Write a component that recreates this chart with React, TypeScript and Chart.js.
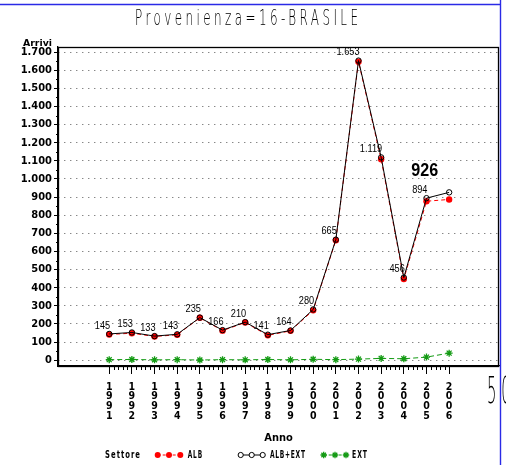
import React, { useEffect, useRef } from 'react';
import { Chart, registerables } from 'chart.js';

Chart.register(...registerables);

const years = [1991, 1992, 1993, 1994, 1995, 1996, 1997, 1998, 1999, 2000, 2001, 2002, 2003, 2004, 2005, 2006];
const albExt = [145, 153, 133, 143, 235, 166, 210, 141, 164, 280, 665, 1653, 1119, 456, 894, 926];
const alb = [142, 149, 131, 140, 234, 163, 208, 137, 162, 275, 662, 1647, 1109, 448, 877, 887];
const ext = [3, 4, 2, 3, 1, 3, 2, 4, 2, 5, 3, 6, 10, 8, 17, 39];
const yTicks = [0, 100, 200, 300, 400, 500, 600, 700, 800, 900, 1000, 1100, 1200, 1300, 1400, 1500, 1600, 1700];
const chartTitle = 'Provenienza=16-BRASILE';
const yTitle = 'Arrivi';
const xTitle = 'Anno';
const legendTitle = 'Settore';
const seriesNames = ['ALB', 'ALB+EXT', 'EXT'];
const highlightLabel = '926';

const COND = "'DejaVu Sans Condensed', 'Liberation Sans Narrow', 'DejaVu Sans', sans-serif";
const RED = '#ff0000';
const GREEN = '#139a13';
const BLUE = '#2a2ae6';

function fmt(n: number): string {
  const v = Math.round(n);
  if (Math.abs(v) >= 1000) {
    return Math.floor(v / 1000) + '.' + String(v % 1000).padStart(3, '0');
  }
  return String(v);
}

function drawText(
  ctx: CanvasRenderingContext2D,
  text: string,
  x: number,
  y: number,
  font: string,
  color: string,
  align: 'left' | 'right' | 'center',
  scaleX = 1,
  spacing = 0,
  targetWidth = 0
) {
  ctx.save();
  ctx.font = font;
  (ctx as any).letterSpacing = spacing + 'px';
  ctx.fillStyle = color;
  ctx.textBaseline = 'middle';
  ctx.textAlign = 'left';
  const raw = ctx.measureText(text).width - spacing;
  let sx = scaleX;
  if (targetWidth > 0) sx = targetWidth / raw;
  const w = raw * sx;
  const x0 = align === 'center' ? x - w / 2 : align === 'right' ? x - w : x;
  ctx.translate(x0, y);
  ctx.scale(sx, 1);
  ctx.fillText(text, 0, 0);
  ctx.restore();
}

function drawStar(ctx: CanvasRenderingContext2D, x: number, y: number, r: number, color: string) {
  ctx.save();
  ctx.strokeStyle = color;
  ctx.lineWidth = 1.3;
  ctx.beginPath();
  ctx.moveTo(x - r, y); ctx.lineTo(x + r, y);
  ctx.moveTo(x, y - r); ctx.lineTo(x, y + r);
  const d = r * 0.7071;
  ctx.moveTo(x - d, y - d); ctx.lineTo(x + d, y + d);
  ctx.moveTo(x - d, y + d); ctx.lineTo(x + d, y - d);
  ctx.stroke();
  ctx.restore();
}

const decorPlugin = {
  id: 'decor',
  beforeDraw(chart: any) {
    const ctx: CanvasRenderingContext2D = chart.ctx;
    ctx.save();
    ctx.fillStyle = '#ffffff';
    ctx.fillRect(0, 0, chart.width, chart.height);
    ctx.restore();
  },
  afterDraw(chart: any) {
    const ctx: CanvasRenderingContext2D = chart.ctx;
    const a = chart.chartArea;
    const xs = chart.scales.x;
    const ys = chart.scales.y;

    // frame
    ctx.save();
    ctx.strokeStyle = '#000';
    ctx.lineWidth = 1.3;
    ctx.strokeRect(Math.round(a.left) + 0.5, Math.round(a.top) + 0.5, Math.round(a.right - a.left) - 1, Math.round(a.bottom - a.top));
    // minor ticks x
    ctx.lineWidth = 1;
    ctx.beginPath();
    for (let i = 0; i < years.length - 1; i++) {
      for (let k = 1; k < 5; k++) {
        const px = Math.round(xs.getPixelForValue(years[i] + k * 0.2)) + 0.5;
        ctx.moveTo(px, a.bottom);
        ctx.lineTo(px, a.bottom + 4);
      }
    }
    // minor ticks y
    for (let i = 0; i < yTicks.length - 1; i++) {
      const py = Math.round(ys.getPixelForValue((yTicks[i] + yTicks[i + 1]) / 2)) + 0.5;
      ctx.moveTo(a.left - 2, py);
      ctx.lineTo(a.left, py);
    }
    ctx.stroke();
    ctx.restore();

    // title
    drawText(ctx, chartTitle, 246.5, 20, '200 21px "DejaVu Sans"', '#000', 'center', 1, 6, 223);
    // y title
    drawText(ctx, yTitle, 52, 43.5, 'bold 9px ' + COND, '#000', 'right', 1, 0, 29);

    // data labels
    const meta = chart.getDatasetMeta(0);
    meta.data.forEach((pt: any, i: number) => {
      if (i === albExt.length - 1) return;
      drawText(ctx, fmt(albExt[i]), pt.x + 1, pt.y - 8, '10px "Liberation Sans", Arial, sans-serif', '#000', 'right', 0.92);
    });
    const last = meta.data[albExt.length - 1];
    if (last) {
      drawText(ctx, highlightLabel, last.x - 11, last.y - 22, 'bold 19px "Liberation Sans", Arial, sans-serif', '#000', 'right', 0.85);
    }

    // legend
    const ly = 455;
    const lf = 'bold 11px ' + COND;
    drawText(ctx, legendTitle, 105, ly, lf, '#000', 'left', 1, 1.5, 35);
    ctx.save();
    // ALB
    ctx.strokeStyle = RED; ctx.lineWidth = 1; ctx.setLineDash([3, 2]);
    ctx.beginPath(); ctx.moveTo(157.7, ly); ctx.lineTo(180.3, ly); ctx.stroke();
    ctx.setLineDash([]);
    ctx.fillStyle = RED;
    [157.7, 169, 180.3].forEach((x) => { ctx.beginPath(); ctx.arc(x, ly, 3, 0, Math.PI * 2); ctx.fill(); });
    // ALB+EXT
    ctx.strokeStyle = '#000';
    ctx.beginPath(); ctx.moveTo(240.7, ly); ctx.lineTo(262.7, ly); ctx.stroke();
    ctx.fillStyle = '#fff';
    [240.7, 251.7, 262.7].forEach((x) => { ctx.beginPath(); ctx.arc(x, ly, 2.6, 0, Math.PI * 2); ctx.fill(); ctx.stroke(); });
    // EXT
    ctx.strokeStyle = GREEN; ctx.setLineDash([3, 2]);
    ctx.beginPath(); ctx.moveTo(323.7, ly); ctx.lineTo(346, ly); ctx.stroke();
    ctx.setLineDash([]);
    ctx.restore();
    [323.7, 335, 346].forEach((x) => drawStar(ctx, x, ly, 3.2, GREEN));
    drawText(ctx, seriesNames[0], 187.7, ly, lf, '#000', 'left', 1, 1.5, 14.5);
    drawText(ctx, seriesNames[1], 270, ly, lf, '#000', 'left', 1, 1.2, 35);
    drawText(ctx, seriesNames[2], 352, ly, lf, '#000', 'left', 1, 1.5, 15);

    // stray large text at right edge
    drawText(ctx, '50', 487, 393.5, '200 37px "DejaVu Sans"', '#000', 'left', 0.4, 12);

    // blue borders
    ctx.save();
    ctx.strokeStyle = BLUE;
    ctx.lineWidth = 1.4;
    ctx.beginPath();
    ctx.moveTo(0, 4.5); ctx.lineTo(500.5, 4.5);
    ctx.moveTo(500.5, 0); ctx.lineTo(500.5, chart.height);
    ctx.stroke();
    ctx.restore();
  },
};

export default function App() {
  const ref = useRef<HTMLCanvasElement | null>(null);

  useEffect(() => {
    if (!ref.current) return;
    const toPts = (arr: number[]) => years.map((y, i) => ({ x: y, y: arr[i] }));
    const chart = new Chart(ref.current, {
      type: 'line',
      data: {
        datasets: [
          {
            label: seriesNames[1],
            data: toPts(albExt),
            borderColor: '#000',
            borderWidth: 1,
            tension: 0,
            pointStyle: 'circle',
            pointRadius: 2.7,
            pointBackgroundColor: 'rgba(0,0,0,0)',
            pointBorderColor: '#000',
            pointBorderWidth: 1,
          },
          {
            label: seriesNames[0],
            data: toPts(alb),
            borderColor: RED,
            borderWidth: 1,
            borderDash: [4, 3],
            tension: 0,
            pointStyle: 'circle',
            pointRadius: 3.2,
            pointBackgroundColor: RED,
            pointBorderColor: RED,
            pointBorderWidth: 0,
          },
          {
            label: seriesNames[2],
            data: toPts(ext),
            borderColor: GREEN,
            borderWidth: 1,
            borderDash: [5, 3],
            tension: 0,
            pointStyle: 'star',
            pointRadius: 3.5,
            pointBorderColor: GREEN,
            pointBackgroundColor: GREEN,
            pointBorderWidth: 1.3,
          },
        ],
      },
      options: {
        animation: false,
        responsive: false,
        devicePixelRatio: 1,
        layout: { padding: { top: 47, right: 7, left: 0, bottom: 0 } },
        plugins: {
          legend: { display: false },
          title: { display: false },
          tooltip: { enabled: false },
        },
        scales: {
          x: {
            type: 'linear',
            min: 1988.74,
            max: 2008.2,
            afterBuildTicks: (s: any) => { s.ticks = years.map((v) => ({ value: v })); },
            afterFit: (s: any) => { s.height = 99; },
            ticks: {
              autoSkip: false,
              maxRotation: 0,
              minRotation: 0,
              padding: 8,
              color: '#000',
              font: { family: COND, size: 10.5, weight: 'bold', lineHeight: 0.93 },
              callback: (v: any) => String(v).split(''),
            },
            grid: { drawOnChartArea: false, drawTicks: true, tickLength: 8, tickColor: '#000', color: '#000', tickWidth: 1 },
            border: { display: true, color: '#000', width: 1.3 },
            title: {
              display: true,
              text: xTitle,
              color: '#000',
              font: { family: COND, size: 11, weight: 'bold' },
              padding: { top: 0, bottom: 20 },
            },
          },
          y: {
            type: 'linear',
            min: -32,
            max: 1728,
            afterBuildTicks: (s: any) => { s.ticks = yTicks.map((v) => ({ value: v })); },
            afterFit: (s: any) => { s.width = 58; },
            ticks: {
              padding: 2,
              color: '#000',
              font: { family: COND, size: 11, weight: 'bold' },
              callback: (v: any) => fmt(Number(v)),
            },
            grid: { color: '#555', lineWidth: 1, drawTicks: true, tickLength: 4, tickColor: '#000', tickWidth: 1 },
            border: { display: true, color: '#000', width: 1.3, dash: [1, 5] },
          },
        },
      },
      plugins: [decorPlugin],
    } as any);
    return () => chart.destroy();
  }, []);

  return (
    <div style={{ position: 'absolute', left: 0, top: 0, width: 506, height: 465 }}>
      <canvas ref={ref} width={506} height={465} style={{ display: 'block' }} />
    </div>
  );
}
